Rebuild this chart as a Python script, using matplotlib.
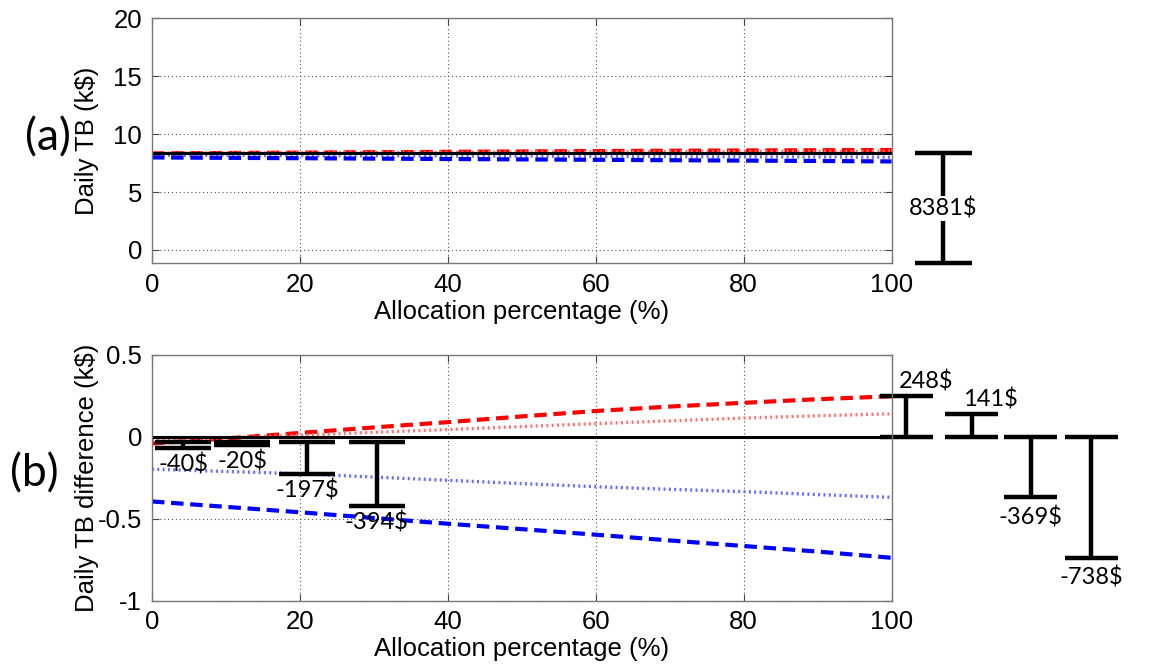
import numpy as np
import matplotlib
matplotlib.use("Agg")
import matplotlib.pyplot as plt

# Allocation percentage (%)
alloc = [0, 10, 20, 30, 40, 50, 60, 70, 80, 90, 100]

# Baseline daily TB (k$)
baseline = 8.381

# Daily TB difference vs. baseline (k$)
red_dashed = [-0.040, -0.010, 0.024, 0.058, 0.090, 0.125, 0.158, 0.185, 0.208, 0.230, 0.248]
red_dotted = [-0.020, -0.005, 0.010, 0.028, 0.045, 0.063, 0.081, 0.098, 0.115, 0.129, 0.141]
blue_dotted = [-0.197, -0.211, -0.225, -0.245, -0.265, -0.285, -0.304, -0.320, -0.334, -0.352, -0.369]
blue_dashed = [-0.394, -0.427, -0.460, -0.495, -0.530, -0.563, -0.597, -0.632, -0.666, -0.700, -0.738]

# Bracket annotations (values in $)
left_vals = [-40, -20, -197, -394]
left_x = [4.2, 12.2, 21.0, 30.4]
right_vals = [248, 141, -369, -738]
right_x = [102.0, 110.8, 118.8, 127.0]

tick_font = "Liberation Sans"
note_font = "Lato"
fs = 18.5

series = [
    (red_dashed, dict(color="#ff0000", ls=(0, (3, 1.6)), lw=3)),
    (red_dotted, dict(color="#ff7070", ls=(0, (0.6, 1.0)), lw=2.4)),
    (blue_dotted, dict(color="#6a6aff", ls=(0, (0.6, 1.0)), lw=2.4)),
    (blue_dashed, dict(color="#0000ff", ls=(0, (3, 1.6)), lw=3)),
]


def bracket(ax, x, y0, y1, half=3.6, lw=3.2):
    ax.plot([x, x], [y0, y1], color="black", lw=lw, clip_on=False, solid_capstyle="butt")
    for y in (y0, y1):
        ax.plot([x - half, x + half], [y, y], color="black", lw=lw, clip_on=False,
                solid_capstyle="butt")


def style(ax):
    ax.set_xlim(0, 100)
    ax.grid(True, ls=(0, (1, 2.5)), color="#555555", lw=0.8)
    ax.tick_params(direction="in", top=True, right=True, labelsize=fs, length=5, pad=7,
                   color="#444444")
    for lab in ax.get_xticklabels() + ax.get_yticklabels():
        lab.set_fontname(tick_font)
    for sp in ax.spines.values():
        sp.set_color("#777777")
        sp.set_linewidth(1.0)
    ax.set_xlabel("Allocation percentage (%)", fontsize=fs, fontname=tick_font, labelpad=2)


fig = plt.figure(figsize=(11.52, 6.66), dpi=100)

# (a) Daily TB
ax1 = fig.add_axes([0.1319, 0.6047, 0.6421, 0.3678])
for vals, kw in series:
    ax1.plot(alloc, [baseline + v for v in vals], **kw)
ax1.axhline(baseline, color="black", lw=2.2)
ax1.set_ylim(-1.15, 20)
ax1.set_xticks([0, 20, 40, 60, 80, 100])
ax1.set_yticks([0, 5, 10, 15, 20])
style(ax1)
ax1.set_ylabel("Daily TB (k$)", fontsize=fs, fontname=tick_font)
ax1.yaxis.set_label_coords(-0.071, 0.5)

bracket(ax1, 107.0, -1.15, baseline, half=3.9)
ax1.text(107.0, 3.6, "%d$" % round(baseline * 1000), fontsize=17, fontname=note_font,
         ha="center", va="center", clip_on=False,
         bbox=dict(facecolor="white", edgecolor="none", pad=1))

# (b) Daily TB difference
ax2 = fig.add_axes([0.1319, 0.098, 0.6421, 0.369])
for vals, kw in series:
    ax2.plot(alloc, vals, **kw)
ax2.axhline(0, color="black", lw=2.2)
ax2.set_ylim(-1, 0.5)
ax2.set_xticks([0, 20, 40, 60, 80, 100])
ax2.set_yticks([-1, -0.5, 0, 0.5])
ax2.set_yticklabels(["-1", "-0.5", "0", "0.5"])
style(ax2)
ax2.set_ylabel("Daily TB difference (k$)", fontsize=fs, fontname=tick_font)
ax2.yaxis.set_label_coords(-0.071, 0.5)

off = -0.03
for x, v in zip(left_x, left_vals):
    top = off
    bot = off + v / 1000.0
    bracket(ax2, x, top, bot, half=3.8)
    ax2.text(x, bot - 0.1, "%d$" % v, fontsize=17, fontname=note_font,
             ha="center", va="center")

for x, v in zip(right_x, right_vals):
    end = v / 1000.0
    bracket(ax2, x, 0, end, half=3.6)
    if v > 0:
        ty = end + 0.09
    else:
        ty = end - 0.12
    ax2.text(x + (2.6 if v > 0 else 0), ty, "%d$" % v, fontsize=17, fontname=note_font,
             ha="center", va="center", clip_on=False)

fig.text(0.042, 1 - 138 / 666, "(a)", fontsize=32, fontname=note_font, ha="center", va="center")
fig.text(0.030, 1 - 474 / 666, "(b)", fontsize=32, fontname=note_font, ha="center", va="center")

fig.savefig("out.png", dpi=100)
